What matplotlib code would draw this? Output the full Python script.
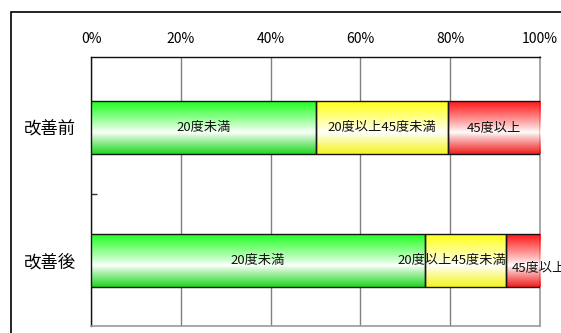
import numpy as np
import matplotlib
matplotlib.use("Agg")
import matplotlib.pyplot as plt
from matplotlib.patches import Rectangle
from matplotlib.colors import to_rgb

plt.rcParams['font.family'] = ['Noto Sans CJK JP', 'DejaVu Sans']

categories = ['改善前', '改善後']
series_names = ['20度未満', '20度以上45度未満', '45度以上']
values = {
    '20度未満': [50.2, 74.4],
    '20度以上45度未満': [29.2, 18.0],
    '45度以上': [20.6, 7.6],
}
xticks = [0, 20, 40, 60, 80, 100]
xtick_labels = ['0%', '20%', '40%', '60%', '80%', '100%']

colors = {
    '20度未満': ('#1aff1a', '#22d822'),
    '20度以上45度未満': ('#ffff10', '#f5f520'),
    '45度以上': ('#ff1010', '#f02020'),
}

W, H = 561, 333
fig = plt.figure(figsize=(W / 100, H / 100), dpi=100)
ax = fig.add_axes([91 / W, 1 - 326 / H, (540 - 91) / W, (326 - 57) / H])

def gradient(top, bottom, n=120, mid=0.6):
    top = np.array(to_rgb(top)); bottom = np.array(to_rgb(bottom))
    white = np.ones(3)
    rows = []
    for i in range(n):
        t = i / (n - 1)
        if t < mid:
            s = (mid - t) / mid
            c = top
        else:
            s = (t - mid) / (1 - mid)
            c = bottom
        s = s ** 0.9
        rows.append(white + (c - white) * s)
    return np.array(rows)[:, None, :]

y = np.arange(len(categories))
bar_h = 0.4
left = np.zeros(len(categories))
patches_info = []
for name in series_names:
    vals = np.array(values[name])
    ctop, cbot = colors[name]
    bars = ax.barh(y, vals, left=left, height=bar_h, facecolor='none',
                   edgecolor='#151515', linewidth=1.0, zorder=4)
    img = gradient(ctop, cbot)
    for b in bars:
        x0, y0 = b.get_x(), b.get_y()
        w, h = b.get_width(), b.get_height()
        im = ax.imshow(img, extent=(x0, x0 + w, y0 + h, y0), aspect='auto',
                       origin='upper', zorder=3, interpolation='bilinear')
        im.set_clip_path(b)
    patches_info.append((name, left.copy(), vals))
    left = left + vals

ax.set_xlim(0, 100)
ax.set_ylim(1.49, -0.53)

# labels
for name, lefts, vals in patches_info:
    for i in range(len(categories)):
        cx = lefts[i] + vals[i] / 2
        kw = dict(fontsize=9.5, color='#111111', va='center', zorder=6, clip_on=False)
        if i == 1 and name == '20度以上45度未満':
            ax.annotate(name, (lefts[i] + vals[i], y[i]), xytext=(0, 0),
                        textcoords='offset points', ha='right', **kw)
        elif i == 1 and name == '45度以上':
            ax.annotate(name, (lefts[i], y[i]), xytext=(4, -5),
                        textcoords='offset points', ha='left', **kw)
        else:
            ax.annotate(name, (cx, y[i]), xytext=(0, 0),
                        textcoords='offset points', ha='center', **kw)

ax.set_xticks(xticks)
ax.set_xticklabels(xtick_labels, fontsize=10)
ax.xaxis.tick_top()
ax.tick_params(axis='x', length=0, pad=8)
ax.set_yticks(y)
ax.set_yticklabels(categories, fontsize=12.5)
ax.tick_params(axis='y', length=0, pad=11)
ax.set_yticks([0.5], minor=True)
ax.tick_params(axis='y', which='minor', direction='in', length=4, width=1, color='#333333')

ax.grid(axis='x', color='#808080', linewidth=1.0, zorder=1)
ax.set_axisbelow(True)
for s in ['left', 'top']:
    ax.spines[s].set_color('#111111')
    ax.spines[s].set_linewidth(1.0)
for s in ['right', 'bottom']:
    ax.spines[s].set_color('#9a9a9a')
    ax.spines[s].set_linewidth(1.2)

fig.add_artist(Rectangle((10.5 / W, -0.2), 1.2, 1.2 - 12 / H,
                         transform=fig.transFigure, fill=False,
                         edgecolor='black', linewidth=1.2))

fig.savefig('out.png', dpi=100)
